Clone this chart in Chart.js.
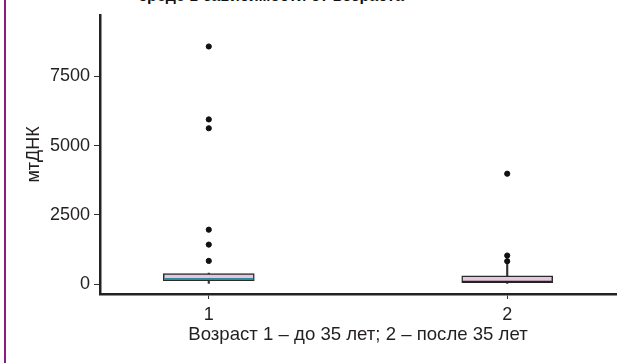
<!DOCTYPE html>
<html>
<head>
<meta charset="utf-8">
<script src="https://cdn.jsdelivr.net/npm/chart.js@4.4.1/dist/chart.umd.min.js"></script>
<style>
  html, body { margin: 0; padding: 0; background: #fff; overflow: hidden; }
  #wrap { position: relative; width: 621px; height: 363px; }
  #edge { position: absolute; left: 4px; top: 0; width: 2px; height: 363px; background: #8c1d7e; }
  #title {
    position: absolute; left: 0; width: 542px; top: -12px; text-align: center;
    font: bold 16px "Liberation Sans", Arial, sans-serif; color: #111; line-height: 16px;
  }
  canvas { position: absolute; left: 0; top: 0; }
</style>
</head>
<body>
<div id="wrap">
  <div id="edge"></div>
  <div id="title">среде в зависимости от возраста</div>
  <canvas id="c" width="621" height="363"></canvas>
</div>
<script>
// groups (age): 1 – до 35 лет, 2 – после 35 лет
const groups = [1, 2];
const q1 = [119, 47];
const median = [180, 80];
const q3 = [377, 298];
const whiskerLow = [0, 0];
const whiskerHigh = [400, 830];
const medianColors = ["#2b8c9c", "#222222"];
// outliers per group
const outliers1 = [8585, 5950, 5630, 1965, 1425, 837];
const outliers2 = [3987, 1030, 826];
const yTicks = [0, 2500, 5000, 7500];

const FONT = '"Liberation Sans", Arial, sans-serif';
const TXT = "#231f20";

const medianPlugin = {
  id: "medianLines",
  afterDatasetsDraw(chart) {
    const meta = chart.getDatasetMeta(1);
    const y = chart.scales.y;
    const ctx = chart.ctx;
    ctx.save();
    meta.data.forEach((bar, i) => {
      const py = y.getPixelForValue(median[i]);
      ctx.strokeStyle = medianColors[i];
      ctx.lineWidth = 2;
      ctx.beginPath();
      ctx.moveTo(bar.x - bar.width / 2 + 1, py);
      ctx.lineTo(bar.x + bar.width / 2 - 1, py);
      ctx.stroke();
    });
    ctx.restore();
  },
};

const outlierPoints = [
  ...outliers1.map((v) => ({ x: groups[0], y: v })),
  ...outliers2.map((v) => ({ x: groups[1], y: v })),
];

new Chart(document.getElementById("c"), {
  type: "bar",
  data: {
    datasets: [
      {
        // whiskers
        data: groups.map((g, i) => ({ x: g, y: [whiskerLow[i], whiskerHigh[i]] })),
        backgroundColor: "#333",
        barThickness: 1.5,
        grouped: false,
        order: 3,
      },
      {
        // boxes
        data: groups.map((g, i) => ({ x: g, y: [q1[i], q3[i]] })),
        backgroundColor: "#e8c6e0",
        borderColor: "#2b2b2b",
        borderWidth: 1.5,
        borderSkipped: false,
        barThickness: 91,
        grouped: false,
        order: 2,
      },
      {
        type: "scatter",
        data: outlierPoints,
        backgroundColor: "#111",
        borderColor: "#111",
        pointRadius: 2.6,
        order: 1,
      },
    ],
  },
  options: {
    responsive: false,
    animation: false,
    layout: { padding: { top: 13, right: 0, left: 0, bottom: 0 } },
    plugins: { legend: { display: false }, tooltip: { enabled: false }, title: { display: false } },
    scales: {
      x: {
        type: "linear",
        offset: false,
        min: 0.6355,
        max: 2.3645,
        afterBuildTicks: (axis) => { axis.ticks = groups.map((v) => ({ value: v })); },
        afterFit: (axis) => { axis.height = 69; },
        border: { display: true, color: "#222", width: 2.5 },
        grid: { display: true, offset: false, drawOnChartArea: false, drawTicks: true, tickLength: 5, color: "#333", lineWidth: 1 },
        ticks: { color: TXT, font: { family: FONT, size: 18 }, padding: 5, callback: (v) => String(v) },
        title: {
          display: true,
          text: "Возраст 1 – до 35 лет; 2 – после 35 лет",
          color: TXT,
          font: { family: FONT, size: 18.6 },
          padding: { top: 2, bottom: 17 },
        },
      },
      y: {
        min: -360,
        max: 9730,
        afterBuildTicks: (axis) => { axis.ticks = yTicks.map((v) => ({ value: v })); },
        afterFit: (axis) => { axis.width = 100; },
        border: { display: true, color: "#222", width: 2.5 },
        grid: { display: true, drawOnChartArea: false, drawTicks: true, tickLength: 6, color: "#333", lineWidth: 1 },
        ticks: { color: TXT, font: { family: FONT, size: 18 }, padding: 4, callback: (v) => String(v) },
        title: {
          display: true,
          text: "мтДНК",
          color: TXT,
          font: { family: FONT, size: 18 },
          padding: { top: 23, bottom: 0 },
        },
      },
    },
  },
  plugins: [medianPlugin],
});
</script>
</body>
</html>
